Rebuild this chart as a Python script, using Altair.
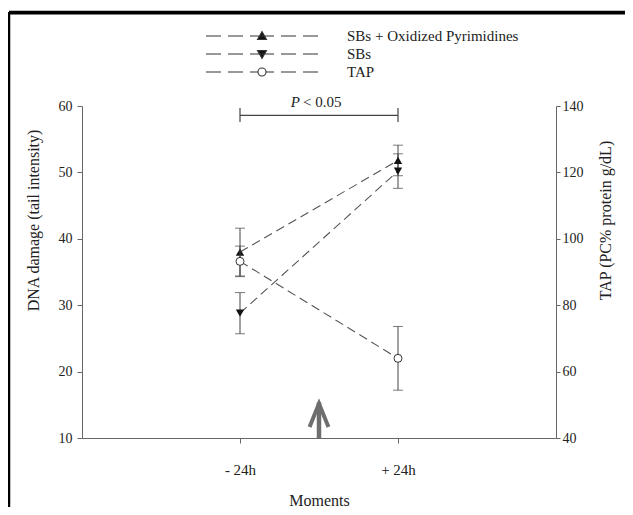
import altair as alt
import pandas as pd

# ---------------- data ----------------
moments = ["- 24h", "+ 24h"]
moment_pos = [1, 2]
series = ["SBs + Oxidized Pyrimidines", "SBs", "TAP"]

sbs_ox_mean = [38.0, 51.8]
sbs_ox_err = [3.6, 2.3]
sbs_mean = [28.8, 50.2]
sbs_err = [3.1, 2.6]
tap_mean = [93.2, 64.0]
tap_err = [4.6, 9.6]

left_ticks = [10, 20, 30, 40, 50, 60]
right_ticks = [40, 60, 80, 100, 120, 140]

# significance bracket and arrow (annotation values, left-axis units)
bracket_x = [1]
bracket_x2 = [2]
bracket_y = [58.6]
bracket_lo = [57.6]
bracket_hi = [59.7]
p_label_y = [59.85]
arrow_x = [1.5]
arrow_base = [10.0]
arrow_shaft_top = [15.4]
arrow_tip = [16.0]

FONT = "Liberation Serif"
TXT = "#222222"
AX = "#666666"


def frame(mean, err, name):
    return pd.DataFrame({
        "x": moment_pos, "moment": moments, "series": name, "mean": mean,
        "lo": [m - e for m, e in zip(mean, err)],
        "hi": [m + e for m, e in zip(mean, err)],
    })


df_ox = frame(sbs_ox_mean, sbs_ox_err, series[0])
df_sbs = frame(sbs_mean, sbs_err, series[1])
df_tap = frame(tap_mean, tap_err, series[2])
df_left = pd.concat([df_ox, df_sbs], ignore_index=True)

label_expr = f"datum.value == {moment_pos[0]} ? '{moments[0]}' : '{moments[1]}'"
x_axis = alt.Axis(
    values=moment_pos, labelExpr=label_expr, title="Moments", grid=False,
    domainColor=AX, tickColor=AX, tickSize=5, labelPadding=19,
    labelFont=FONT, labelFontSize=15, labelColor=TXT, labelFlush=False,
    titleFont=FONT, titleFontSize=16, titleFontWeight="normal", titleColor=TXT,
    titleY=67, titleBaseline="alphabetic",
)
x_scale = alt.Scale(domain=[0, 3])


def X(field="x"):
    return alt.X(f"{field}:Q", scale=x_scale, axis=x_axis)


left_axis = alt.Axis(
    values=left_ticks, title="DNA damage (tail intensity)", grid=False,
    domainColor=AX, tickColor=AX, tickSize=5, labelPadding=5,
    labelFont=FONT, labelFontSize=14, labelColor=TXT,
    titleFont=FONT, titleFontSize=16, titleFontWeight="normal", titleColor=TXT,
    titleX=-49, titleY=114, titleAngle=270, titleBaseline="middle", titleAlign="center",
)
left_scale = alt.Scale(domain=[10, 60])
right_axis = alt.Axis(
    orient="right", values=right_ticks, title="TAP (PC% protein g/dL)", grid=False,
    domainColor=AX, tickColor=AX, tickSize=4, labelPadding=2,
    labelFont=FONT, labelFontSize=14, labelColor=TXT,
    titleFont=FONT, titleFontSize=16, titleFontWeight="normal", titleColor=TXT,
    titleX=49, titleY=114, titleAngle=270, titleBaseline="middle", titleAlign="center",
)
right_scale = alt.Scale(domain=[40, 140])


def YL(field):
    return alt.Y(f"{field}:Q", scale=left_scale, axis=left_axis)


def YR(field):
    return alt.Y(f"{field}:Q", scale=right_scale, axis=right_axis)


DASH = [9, 5]
LINE_C = "#555555"
ERR_C = "#444444"
MARK_C = "#111111"

# ---------------- left (DNA damage) layers ----------------
left_lines = alt.Chart(df_left).mark_line(strokeDash=DASH, color=LINE_C, strokeWidth=1.1).encode(
    x=X(), y=YL("mean"), detail="series:N")
left_err = alt.Chart(df_left).mark_rule(color=ERR_C, strokeWidth=1).encode(
    x=X(), y=YL("lo"), y2="hi:Q")
left_cap_lo = alt.Chart(df_left).mark_tick(orient="horizontal", size=10, thickness=1, color=ERR_C).encode(
    x=X(), y=YL("lo"))
left_cap_hi = alt.Chart(df_left).mark_tick(orient="horizontal", size=10, thickness=1, color=ERR_C).encode(
    x=X(), y=YL("hi"))
pts_ox = alt.Chart(df_ox).mark_point(shape="triangle-up", filled=True, color=MARK_C, size=70, opacity=1).encode(
    x=X(), y=YL("mean"))
pts_sbs = alt.Chart(df_sbs).mark_point(shape="triangle-down", filled=True, color=MARK_C, size=70, opacity=1).encode(
    x=X(), y=YL("mean"))

df_br = pd.DataFrame({"x": bracket_x, "x2": bracket_x2, "y": bracket_y, "lo": bracket_lo, "hi": bracket_hi})
bracket_h = alt.Chart(df_br).mark_rule(color=ERR_C, strokeWidth=1.2).encode(x=X(), x2="x2:Q", y=YL("y"))
bracket_l = alt.Chart(df_br).mark_rule(color=ERR_C, strokeWidth=1.2).encode(x=X(), y=YL("lo"), y2="hi:Q")
bracket_r = alt.Chart(df_br).mark_rule(color=ERR_C, strokeWidth=1.2).encode(x=X("x2"), y=YL("lo"), y2="hi:Q")

df_p = pd.DataFrame({"x": arrow_x, "y": p_label_y, "p": ["P"], "rest": ["< 0.05"]})
p_italic = alt.Chart(df_p).mark_text(font=FONT, fontSize=15, fontStyle="italic", color=TXT,
                                     align="right", baseline="alphabetic", dx=-19).encode(
    x=X(), y=YL("y"), text="p:N")
p_rest = alt.Chart(df_p).mark_text(font=FONT, fontSize=15, color=TXT,
                                   align="left", baseline="alphabetic", dx=-16).encode(
    x=X(), y=YL("y"), text="rest:N")

ARROW_C = "#6e6e6e"
df_arrow = pd.DataFrame({"x": arrow_x, "base": arrow_base, "top": arrow_shaft_top, "tip": arrow_tip})
arrow_shaft = alt.Chart(df_arrow).mark_rule(color=ARROW_C, strokeWidth=4.5).encode(
    x=X(), y=YL("base"), y2="top:Q")
chevron = "M-1.05,3.2 L0,0.6 L1.05,3.2"
arrow_head = alt.Chart(df_arrow).mark_point(shape=chevron, size=324, filled=False, stroke=ARROW_C,
                                            strokeWidth=4, opacity=1, strokeJoin="miter").encode(
    x=X(), y=YL("tip"))

# legend from custom symbol paths (dashed line + marker), 8 px per unit at size 256
segs = "M-7,0L-5.125,0M-4.25,0L-2.375,0M2.375,0L4.25,0M5.125,0L7,0"
path_up = segs + "M-1.5,0L1.5,0M0,-0.5625L0.5625,0.4375L-0.5625,0.4375Z"
path_down = segs + "M-1.5,0L1.5,0M0,0.5625L0.5625,-0.4375L-0.5625,-0.4375Z"
path_circ = segs + "M-1.5,0L-0.5,0M0.5,0L1.5,0M0.5,0A0.5,0.5 0 1,1 -0.5,0A0.5,0.5 0 1,1 0.5,0Z"
leg = alt.Legend(
    title=None, orient="none", legendX=171, legendY=-79, padding=0,
    symbolSize=256, symbolStrokeWidth=1.1, symbolOpacity=1,
    symbolOffset=0, labelOffset=76, labelFont=FONT, labelFontSize=15, labelColor=TXT,
    labelLimit=400, rowPadding=1,
)
df_leg = pd.DataFrame({"series": series})
legend_layer = alt.Chart(df_leg).mark_point(filled=True, size=0, strokeWidth=1.1).encode(
    shape=alt.Shape("series:N", scale=alt.Scale(domain=series, range=[path_up, path_down, path_circ]), legend=leg),
    fill=alt.Fill("series:N", scale=alt.Scale(domain=series, range=[MARK_C, MARK_C, "#ffffff"]), legend=leg),
    stroke=alt.Stroke("series:N", scale=alt.Scale(domain=series, range=["#333333"] * 3), legend=leg),
)

# picture frame: top and left border of the figure (same structure as the version that rendered)
df_frame = pd.DataFrame({"x": [-0.462], "x2": [3.5], "ya": [74.16], "yb": [74.0], "yc": [73.9], "yd": [-5.0]})
frame_top = alt.Chart(df_frame).mark_rule(color="black", strokeWidth=2.5).encode(x=X(), x2="x2:Q", y=YL("ya"))
frame_left = alt.Chart(df_frame).mark_rule(color="black", strokeWidth=2.5).encode(x=X(), y=YL("ya"), y2="yd:Q")
frame_top_b = alt.Chart(df_frame).mark_rule(color="black", strokeWidth=1.5).encode(x=X(), x2="x2:Q", y=YL("yb"))
frame_top_c = alt.Chart(df_frame).mark_rule(color="black", strokeWidth=1.5).encode(x=X(), x2="x2:Q", y=YL("yc"))

left = alt.layer(left_lines, left_err, left_cap_lo, left_cap_hi, pts_ox, pts_sbs,
                 bracket_h, bracket_l, bracket_r, p_italic, p_rest,
                 arrow_shaft, arrow_head, legend_layer, frame_top, frame_left)
left2 = alt.layer(left, frame_top_b, frame_top_c)

# ---------------- right (TAP) layers ----------------
tap_line = alt.Chart(df_tap).mark_line(strokeDash=DASH, color=LINE_C, strokeWidth=1.1).encode(x=X(), y=YR("mean"))
tap_err_r = alt.Chart(df_tap).mark_rule(color=ERR_C, strokeWidth=1).encode(x=X(), y=YR("lo"), y2="hi:Q")
tap_cap_lo = alt.Chart(df_tap).mark_tick(orient="horizontal", size=10, thickness=1, color=ERR_C).encode(x=X(), y=YR("lo"))
tap_cap_hi = alt.Chart(df_tap).mark_tick(orient="horizontal", size=10, thickness=1, color=ERR_C).encode(x=X(), y=YR("hi"))
tap_pts = alt.Chart(df_tap).mark_point(shape="circle", filled=True, fill="#ffffff", stroke="#333333",
                                       strokeWidth=1, size=64, opacity=1).encode(x=X(), y=YR("mean"))
right = alt.layer(tap_line, tap_err_r, tap_cap_lo, tap_cap_hi, tap_pts)

chart = alt.layer(left2, right).resolve_scale(y="independent").properties(
    width=474, height=332,
    autosize=alt.AutoSizeParams(type="none"),
    padding={"left": 74, "top": 98, "right": 69, "bottom": 69},
    background="white",
).configure_view(stroke=None)

chart.save("out.html", embed_options={"renderer": "svg", "actions": False})
